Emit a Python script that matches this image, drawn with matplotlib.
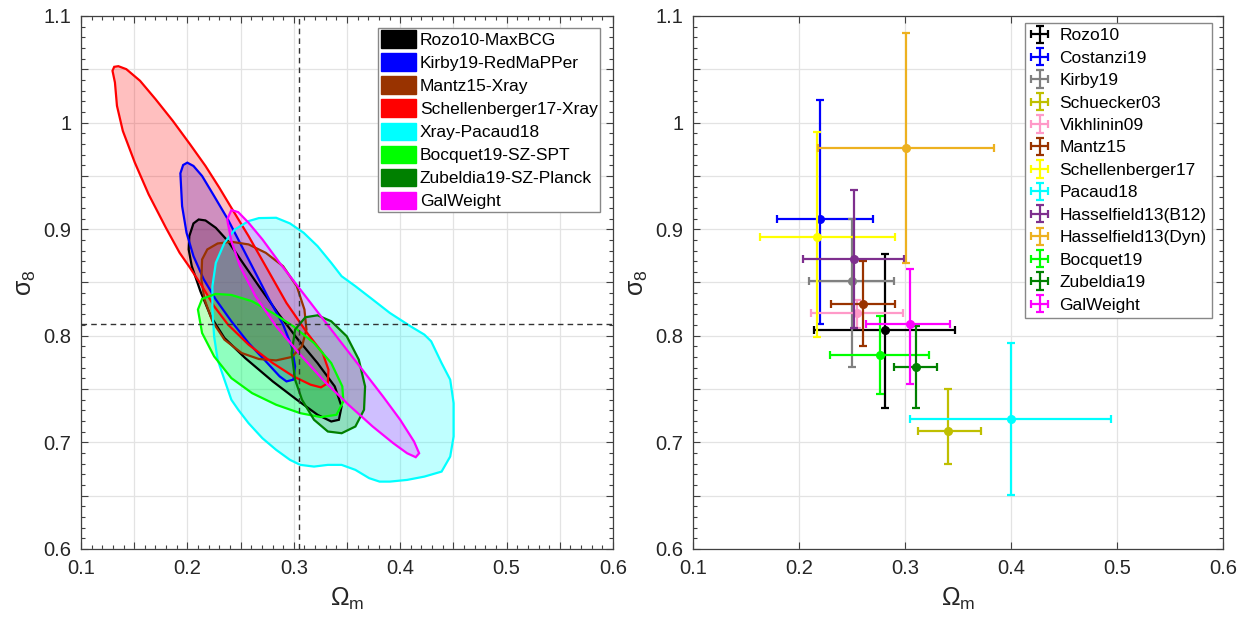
import numpy as np
import matplotlib
matplotlib.use("Agg")
import matplotlib.pyplot as plt
import matplotlib.patches as mpatches
from matplotlib.ticker import MultipleLocator, FixedLocator, FixedFormatter

plt.rcParams['font.family'] = ['Liberation Sans', 'DejaVu Sans']
plt.rcParams['mathtext.default'] = 'regular'

# ---- left panel: 68% contours (omega_m, sigma_8 vertices)
rozo_om = [0.2018, 0.2057, 0.2106, 0.2170, 0.2267, 0.2381, 0.2510, 0.2672, 0.2850, 0.3028, 0.3223, 0.3385,
           0.3449, 0.3424, 0.3352, 0.3223, 0.3028, 0.2802, 0.2543, 0.2348, 0.2219, 0.2122, 0.2041, 0.2012]
rozo_s8 = [0.8935, 0.9054, 0.9091, 0.9082, 0.9013, 0.8888, 0.8700, 0.8465, 0.8214, 0.7979, 0.7744, 0.7525,
           0.7337, 0.7212, 0.7196, 0.7259, 0.7400, 0.7572, 0.7791, 0.7979, 0.8183, 0.8418, 0.8653, 0.8810]

kirby_om = [0.1934, 0.1960, 0.1999, 0.2057, 0.2138, 0.2251, 0.2381, 0.2510, 0.2640, 0.2769, 0.2899, 0.2980,
            0.3012, 0.2996, 0.2931, 0.2867, 0.2737, 0.2575, 0.2413, 0.2267, 0.2154, 0.2057, 0.1992, 0.1950]
kirby_s8 = [0.9524, 0.9602, 0.9624, 0.9593, 0.9499, 0.9311, 0.9091, 0.8841, 0.8590, 0.8340, 0.8105, 0.7901,
            0.7713, 0.7588, 0.7572, 0.7619, 0.7760, 0.7932, 0.8136, 0.8340, 0.8528, 0.8747, 0.8966, 0.9217]

mantz_om = [0.2138, 0.2187, 0.2284, 0.2413, 0.2575, 0.2737, 0.2899, 0.3028, 0.3100, 0.3119, 0.3077, 0.2980,
            0.2834, 0.2672, 0.2510, 0.2348, 0.2235, 0.2161, 0.2131]
mantz_s8 = [0.8716, 0.8810, 0.8866, 0.8882, 0.8857, 0.8778, 0.8653, 0.8465, 0.8246, 0.8058, 0.7901, 0.7801,
            0.7769, 0.7782, 0.7838, 0.7964, 0.8136, 0.8340, 0.8528]

schell_om = [0.1312, 0.1351, 0.1426, 0.1555, 0.1701, 0.1863, 0.2025, 0.2170, 0.2300, 0.2413, 0.2575, 0.2753,
             0.2931, 0.3126, 0.3271, 0.3326, 0.3320, 0.3255, 0.3158, 0.2996, 0.2802, 0.2575, 0.2381, 0.2251,
             0.2138, 0.2025, 0.1927, 0.1798, 0.1636, 0.1506, 0.1393, 0.1338, 0.1319, 0.1296]
schell_s8 = [1.0523, 1.0529, 1.0501, 1.0392, 1.0219, 1.0016, 0.9796, 0.9593, 0.9389, 0.9201, 0.8935, 0.8622,
             0.8308, 0.8026, 0.7838, 0.7682, 0.7556, 0.7516, 0.7541, 0.7619, 0.7744, 0.7917, 0.8105, 0.8277,
             0.8465, 0.8637, 0.8778, 0.9013, 0.9326, 0.9624, 0.9922, 1.0157, 1.0376, 1.0486]

pacaud_om = [0.2672, 0.2834, 0.2964, 0.3093, 0.3223, 0.3352, 0.3449, 0.3579, 0.3741, 0.3903, 0.4097, 0.4227,
             0.4291, 0.4389, 0.4470, 0.4502, 0.4502, 0.4470, 0.4389, 0.4227, 0.4065, 0.3903, 0.3806, 0.3709,
             0.3579, 0.3449, 0.3320, 0.3190, 0.3061, 0.2964, 0.2834, 0.2705, 0.2575, 0.2478, 0.2413, 0.2348,
             0.2284, 0.2251, 0.2235, 0.2235, 0.2267, 0.2348, 0.2446, 0.2575]
pacaud_s8 = [0.9104, 0.9107, 0.9054, 0.8966, 0.8841, 0.8684, 0.8559, 0.8465, 0.8340, 0.8214, 0.8089, 0.8011,
             0.7948, 0.7744, 0.7588, 0.7368, 0.7055, 0.6867, 0.6726, 0.6679, 0.6648, 0.6632, 0.6632, 0.6664,
             0.6742, 0.6789, 0.6789, 0.6773, 0.6789, 0.6836, 0.6930, 0.7039, 0.7180, 0.7306, 0.7400, 0.7588,
             0.7776, 0.7995, 0.8246, 0.8465, 0.8684, 0.8872, 0.8997, 0.9076]

bocquet_om = [0.2099, 0.2138, 0.2267, 0.2413, 0.2608, 0.2802, 0.2996, 0.3190, 0.3352, 0.3456, 0.3466, 0.3401,
              0.3255, 0.3061, 0.2834, 0.2608, 0.2413, 0.2251, 0.2138]
bocquet_s8 = [0.8246, 0.8346, 0.8393, 0.8383, 0.8324, 0.8214, 0.8089, 0.7932, 0.7744, 0.7525, 0.7384, 0.7259,
              0.7237, 0.7274, 0.7353, 0.7462, 0.7603, 0.7807, 0.8026]

zub_om = [0.2980, 0.3012, 0.3109, 0.3223, 0.3352, 0.3498, 0.3611, 0.3670, 0.3660, 0.3579, 0.3450, 0.3320,
          0.3190, 0.3077, 0.3012]
zub_s8 = [0.7838, 0.8058, 0.8174, 0.8192, 0.8136, 0.7995, 0.7776, 0.7525, 0.7306, 0.7149, 0.7086, 0.7102,
          0.7212, 0.7400, 0.7588]

galw_om = [0.2413, 0.2478, 0.2575, 0.2705, 0.2867, 0.3061, 0.3255, 0.3449, 0.3644, 0.3838, 0.4000, 0.4130,
           0.4178, 0.4146, 0.4065, 0.3935, 0.3741, 0.3514, 0.3288, 0.3061, 0.2834, 0.2640, 0.2494, 0.2413, 0.2374]
galw_s8 = [0.9179, 0.9160, 0.9060, 0.8904, 0.8684, 0.8434, 0.8183, 0.7932, 0.7682, 0.7431, 0.7212, 0.7008,
           0.6898, 0.6861, 0.6898, 0.6992, 0.7149, 0.7353, 0.7572, 0.7823, 0.8089, 0.8371, 0.8653, 0.8888, 0.9091]

contour_names = ['Rozo10-MaxBCG', 'Kirby19-RedMaPPer', 'Mantz15-Xray', 'Schellenberger17-Xray',
                 'Xray-Pacaud18', 'Bocquet19-SZ-SPT', 'Zubeldia19-SZ-Planck', 'GalWeight']
contour_om = [rozo_om, kirby_om, mantz_om, schell_om, pacaud_om, bocquet_om, zub_om, galw_om]
contour_s8 = [rozo_s8, kirby_s8, mantz_s8, schell_s8, pacaud_s8, bocquet_s8, zub_s8, galw_s8]
contour_colors = ['#000000', '#0000FF', '#993300', '#FF0000', '#00FFFF', '#00FF00', '#008000', '#FF00FF']

# reference values (dashed lines)
om_ref = 0.305
s8_ref = 0.811

# ---- right panel: point estimates with asymmetric errors
names = ['Rozo10', 'Costanzi19', 'Kirby19', 'Schuecker03', 'Vikhlinin09', 'Mantz15', 'Schellenberger17',
         'Pacaud18', 'Hasselfield13(B12)', 'Hasselfield13(Dyn)', 'Bocquet19', 'Zubeldia19', 'GalWeight']
om = [0.281, 0.220, 0.250, 0.341, 0.255, 0.260, 0.217, 0.400, 0.252, 0.301, 0.276, 0.310, 0.305]
om_lo = [0.067, 0.041, 0.041, 0.029, 0.044, 0.030, 0.054, 0.095, 0.048, 0.083, 0.047, 0.020, 0.042]
om_hi = [0.066, 0.050, 0.040, 0.031, 0.043, 0.031, 0.074, 0.094, 0.047, 0.083, 0.047, 0.020, 0.037]
s8 = [0.805, 0.910, 0.851, 0.711, 0.821, 0.830, 0.893, 0.722, 0.872, 0.976, 0.782, 0.771, 0.811]
s8_lo = [0.073, 0.099, 0.080, 0.031, 0.014, 0.040, 0.094, 0.071, 0.065, 0.108, 0.037, 0.039, 0.056]
s8_hi = [0.072, 0.111, 0.059, 0.039, 0.013, 0.040, 0.098, 0.071, 0.065, 0.108, 0.037, 0.038, 0.052]
point_colors = ['#000000', '#0000FF', '#808080', '#BFBF00', '#FF99C8', '#993300', '#FFFF00',
                '#00FFFF', '#7E2F8E', '#EDB120', '#00FF00', '#008000', '#FF00FF']

xlabel = r'$\Omega_m$'
ylabel = r'$\sigma_8$'

TICKFS = 14.5
LABFS = 18
LEGFS = 12.5
AXC = '#404040'


def style_axes(ax, minor_x=True):
    ax.set_xlim(0.1, 0.6)
    ax.set_ylim(0.6, 1.1)
    yt = np.round(np.arange(0.6, 1.1001, 0.05), 3)
    ax.yaxis.set_major_locator(FixedLocator(yt))
    ax.yaxis.set_major_formatter(FixedFormatter(
        [f'{v:g}' if abs(v * 10 - round(v * 10)) < 1e-6 else '' for v in yt]))
    ax.yaxis.set_minor_locator(MultipleLocator(0.01))
    if minor_x:
        xt = np.round(np.arange(0.1, 0.6001, 0.05), 3)
        ax.xaxis.set_minor_locator(MultipleLocator(0.01))
    else:
        xt = np.round(np.arange(0.1, 0.6001, 0.1), 3)
    ax.xaxis.set_major_locator(FixedLocator(xt))
    ax.xaxis.set_major_formatter(FixedFormatter(
        [f'{v:g}' if abs(v * 10 - round(v * 10)) < 1e-6 else '' for v in xt]))
    ax.tick_params(which='both', direction='in', top=True, right=True, color=AXC, width=0.8)
    ax.tick_params(which='major', length=5, labelsize=TICKFS, pad=7, labelcolor='#262626')
    ax.tick_params(which='minor', length=3)
    for s in ax.spines.values():
        s.set_color(AXC)
        s.set_linewidth(0.9)
    ax.grid(True, which='major', color='#E3E3E3', lw=0.9)
    ax.set_axisbelow(True)
    ax.set_xlabel(xlabel, fontsize=LABFS, color='#262626', labelpad=6)
    ax.set_ylabel(ylabel, fontsize=LABFS, color='#262626', labelpad=4)


fig = plt.figure(figsize=(12.5, 6.22), dpi=100)
ax1 = fig.add_axes([0.0648, 0.1174, 0.4256, 0.8569])
ax2 = fig.add_axes([0.5544, 0.1174, 0.424, 0.8569])

# left: contours
handles = []
for i, (name, x, y, c) in enumerate(zip(contour_names, contour_om, contour_s8, contour_colors)):
    ax1.fill(x, y, facecolor=c, alpha=0.25, edgecolor='none', zorder=2 + i * 0.01)
    ax1.fill(x, y, facecolor='none', edgecolor=c, lw=1.6, zorder=3 + i * 0.01)
    handles.append(mpatches.Patch(facecolor=c, edgecolor=c, label=name))
ax1.axvline(om_ref, color='#333333', ls=(0, (4, 3)), lw=1.0, zorder=4)
ax1.axhline(s8_ref, color='#333333', ls=(0, (4, 3)), lw=1.0, zorder=4)
style_axes(ax1, minor_x=True)
leg1 = ax1.legend(handles=handles, loc='upper right', bbox_to_anchor=(0.976, 0.978), borderaxespad=0,
                  fontsize=LEGFS, frameon=True, fancybox=False, framealpha=1, edgecolor='#888888',
                  handlelength=2.05, handleheight=1.15, handletextpad=0.2, labelspacing=0.32,
                  borderpad=0.15)
leg1.get_frame().set_linewidth(1.0)
leg1.set_zorder(10)

# right: error bars
for i in range(len(names)):
    ax2.errorbar([om[i]], [s8[i]], xerr=[[om_lo[i]], [om_hi[i]]], yerr=[[s8_lo[i]], [s8_hi[i]]],
                 fmt='none', ecolor=point_colors[i], elinewidth=1.6, capsize=3, capthick=1.6,
                 label=names[i], zorder=3)
    ax2.plot([om[i]], [s8[i]], 'o', color=point_colors[i], ms=5.5, zorder=3)
style_axes(ax2, minor_x=False)
leg2 = ax2.legend(loc='upper right', bbox_to_anchor=(0.979, 0.987), borderaxespad=0,
                  fontsize=LEGFS, frameon=True, fancybox=False, framealpha=1, edgecolor='#888888',
                  handlelength=1.1, handletextpad=0.6, labelspacing=0.42, borderpad=0.3)
leg2.get_frame().set_linewidth(1.0)

fig.savefig('out.png', dpi=100)
